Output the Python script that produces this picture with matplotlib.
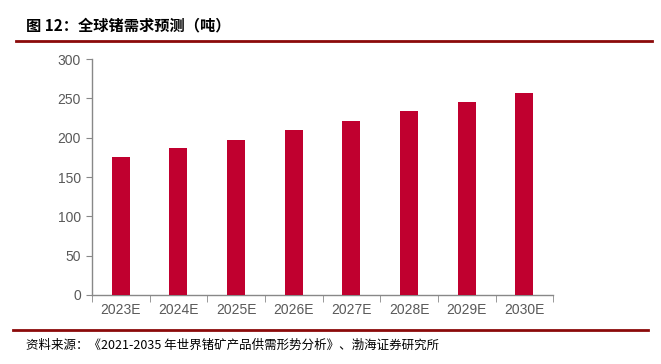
import matplotlib
matplotlib.use("Agg")
import matplotlib.pyplot as plt
from matplotlib.lines import Line2D
import numpy as np

plt.rcParams['font.family'] = ['Noto Sans CJK SC', 'DejaVu Sans']

categories = ["2023E", "2024E", "2025E", "2026E", "2027E", "2028E", "2029E", "2030E"]
values = [175, 187, 197, 210, 221, 234, 245, 257]
yticks = [0, 50, 100, 150, 200, 250, 300]

title = "图 12：全球锗需求预测（吨）"
source = "资料来源：《2021-2035 年世界锗矿产品供需形势分析》、渤海证券研究所"

fig = plt.figure(figsize=(6.61, 3.64), dpi=100)
ax = fig.add_axes([0.139, 0.1896, 0.698, 0.648])

x = np.arange(len(categories))
ax.bar(x, values, width=0.31, color="#C0002F", zorder=3)

ax.set_xlim(-0.5, len(categories) - 0.5)
ax.set_ylim(0, 300)
ax.set_yticks(yticks)
ax.set_yticklabels([str(v) for v in yticks], fontsize=10, color="#595959", family="Liberation Sans")
ax.set_xticks(x)
ax.set_xticklabels(categories, fontsize=10, color="#595959", family="Liberation Sans")
ax.tick_params(axis='x', length=0, pad=6)
ax.set_xticks(np.arange(len(categories) + 1) - 0.5, minor=True)
ax.tick_params(axis='x', which='minor', length=5, color="#888888", direction='out')
ax.tick_params(axis='y', length=4, color="#888888", direction='out', pad=4)

for s in ['top', 'right']:
    ax.spines[s].set_visible(False)
for s in ['left', 'bottom']:
    ax.spines[s].set_color("#888888")
    ax.spines[s].set_linewidth(1)

fig.text(0.04, 0.93, title, fontsize=11, fontweight='bold', color="#000000", va='center')
fig.add_artist(Line2D([0.024, 0.986], [0.887, 0.887], color="#8B0A0A", lw=2, transform=fig.transFigure))
fig.add_artist(Line2D([0.02, 0.98], [0.093, 0.093], color="#8B0A0A", lw=2, transform=fig.transFigure))
fig.text(0.04, 0.052, source, fontsize=9, style='italic', color="#000000", va='center')

fig.savefig("out.png", dpi=100)
